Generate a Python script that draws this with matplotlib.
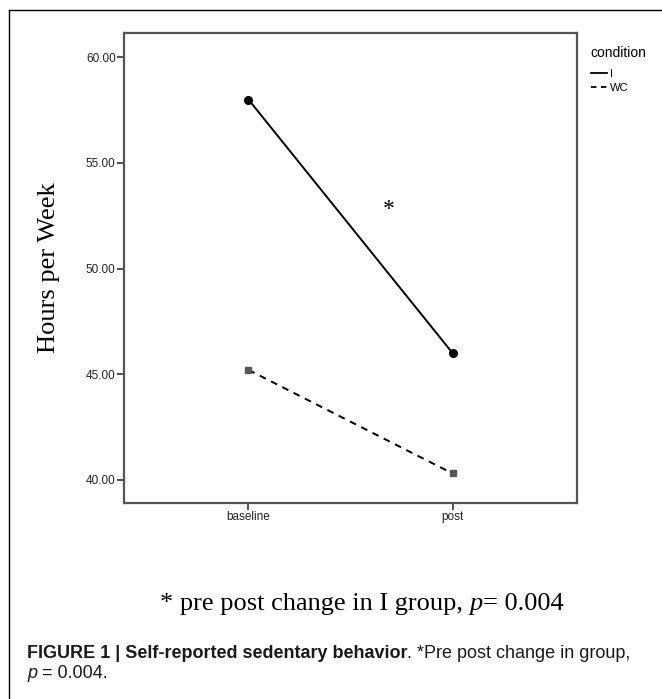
import matplotlib
matplotlib.use("Agg")
import matplotlib.pyplot as plt
from matplotlib.lines import Line2D

# ---- data ----
timepoints = ["baseline", "post"]
group_names = ["I", "WC"]
i_values = [58.0, 46.0]
wc_values = [45.2, 40.3]
y_ticks = [40.0, 45.0, 50.0, 55.0, 60.0]
y_label = "Hours per Week"
legend_title = "condition"
star_note_parts = ["* pre post change in I group, ", "p", "= 0.004"]
caption_bold = "FIGURE 1 | Self-reported sedentary behavior"
caption_rest = ". *Pre post change in group,"
caption_line2 = ["p", " = 0.004."]

W, H = 662, 699
DPI = 100
fig = plt.figure(figsize=(W / DPI, H / DPI), dpi=DPI)
fig.patch.set_facecolor("white")

def fx(px):
    return px / W

def fy(py):
    return 1 - py / H

# outer border (left, top)
fig.add_artist(Line2D([fx(9), fx(9)], [fy(10), 0], color="black", lw=1.0))
fig.add_artist(Line2D([fx(9), 1], [fy(10), fy(10)], color="black", lw=1.0))

ax_l, ax_r, ax_t, ax_b = 124, 577, 33, 503
ax = fig.add_axes([fx(ax_l), fy(ax_b), fx(ax_r - ax_l), (ax_b - ax_t) / H])

x = list(range(len(timepoints)))
ax.plot(x, i_values, color="black", lw=1.4, marker="o", ms=5.5,
        mfc="black", mec="black", label=group_names[0], zorder=3)
ax.plot(x, wc_values, color="black", lw=1.4, ls=(0, (3.5, 3.0)), marker="s", ms=5.0,
        mfc="#555555", mec="#555555", label=group_names[1], zorder=3)

ax.set_xlim(-0.61, 1.61)
ax.set_ylim(38.9, 61.15)
ax.set_xticks(x)
ax.set_xticklabels(timepoints)
ax.set_yticks(y_ticks)
ax.set_yticklabels([f"{v:.2f}" for v in y_ticks])

for sp in ax.spines.values():
    sp.set_color("#555555")
    sp.set_linewidth(1.6)

ax.tick_params(axis="both", direction="out", length=5, width=1.2, color="#333333",
               labelsize=8.5, labelcolor="#222222", pad=1)
for lab in ax.get_xticklabels() + ax.get_yticklabels():
    lab.set_family("Liberation Sans")

ax.text(0.69, 52.8, "*", fontsize=17, family="Liberation Serif", ha="center", va="center")

ax.set_ylabel(y_label, fontsize=19, family="Liberation Serif", labelpad=19)

# legend
handles = [Line2D([], [], color="black", lw=1.3),
           Line2D([], [], color="black", lw=1.3, ls=(0, (3.0, 2.5)))]
leg = fig.legend(handles, group_names, title=legend_title, loc="upper left",
                 bbox_to_anchor=(fx(585), fy(40)), frameon=False, borderpad=0,
                 handlelength=1.5, handletextpad=0.25, labelspacing=0.35,
                 fontsize=8, title_fontsize=10, alignment="left")
leg._legend_box.sep = 7
for t in leg.get_texts():
    t.set_family("Liberation Sans")
leg.get_title().set_family("Liberation Sans")

fig.canvas.draw()
renderer = fig.canvas.get_renderer()

def draw_pieces(pieces, x0_px, y_px, center=False):
    arts = []
    for txt, kw in pieces:
        arts.append(fig.text(0, fy(y_px), txt, va="baseline", ha="left", **kw))
    widths = [a.get_window_extent(renderer).width for a in arts]
    total = sum(widths)
    start = x0_px - total / 2 if center else x0_px
    cur = start
    for a, w in zip(arts, widths):
        a.set_x(fx(cur))
        cur += w
    return arts

serif = dict(family="Liberation Serif", fontsize=19, color="black")
draw_pieces([(star_note_parts[0], serif),
             (star_note_parts[1], dict(serif, style="italic")),
             (star_note_parts[2], serif)], 362, 610, center=True)

sans = dict(family="Liberation Sans", fontsize=13, color="#1a1a1a")
draw_pieces([(caption_bold, dict(sans, weight="bold")),
             (caption_rest, sans)], 27, 658)
draw_pieces([(caption_line2[0], dict(sans, style="italic")),
             (caption_line2[1], sans)], 27, 678)

fig.savefig("out.png", dpi=DPI, facecolor="white")
